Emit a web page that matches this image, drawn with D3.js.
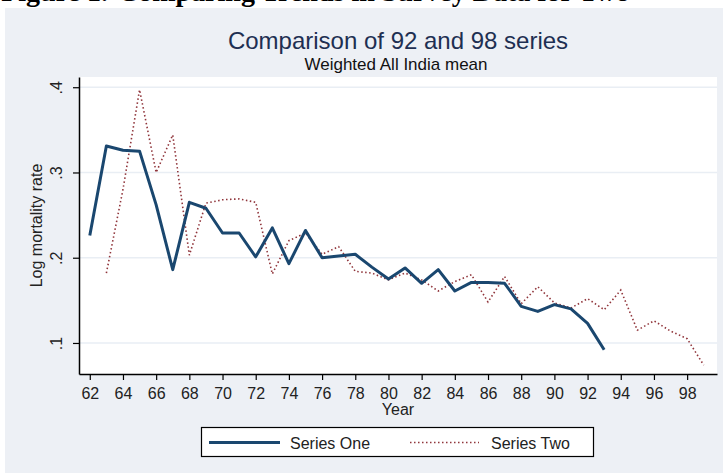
<!DOCTYPE html>
<html>
<head>
<meta charset="utf-8">
<script src="https://cdn.jsdelivr.net/npm/d3@7"></script>
<style>
  body { margin: 0; background: #ffffff; }
  svg text { font-family: "Liberation Sans", Arial, sans-serif; }
</style>
</head>
<body>
<div id="chart"></div>
<script>
// years and values
const yearsOne = [62, 63, 64, 65, 66, 67, 68, 69, 70, 71, 72, 73, 74, 75, 76, 77,
                  78, 79, 80, 81, 82, 83, 84, 85, 86, 87, 88, 89, 90, 91, 92, 93];
const seriesOne = [0.226, 0.331, 0.326, 0.325, 0.262, 0.186, 0.265, 0.258, 0.229, 0.229,
                   0.201, 0.235, 0.193, 0.232, 0.200, 0.202, 0.204, 0.189, 0.175, 0.188,
                   0.170, 0.186, 0.161, 0.171, 0.171, 0.170, 0.143, 0.137, 0.145, 0.140,
                   0.123, 0.092];

const yearsTwo = [63, 64, 65, 66, 67, 68, 69, 70, 71, 72, 73, 74, 75, 76, 77, 78, 79,
                  80, 81, 82, 83, 84, 85, 86, 87, 88, 89, 90, 91, 92, 93, 94, 95, 96,
                  97, 98, 99];
const seriesTwo = [0.182, 0.280, 0.397, 0.300, 0.344, 0.203, 0.264, 0.268, 0.269, 0.265,
                   0.181, 0.220, 0.229, 0.204, 0.213, 0.184, 0.182, 0.174, 0.182, 0.174,
                   0.161, 0.172, 0.180, 0.148, 0.178, 0.146, 0.166, 0.147, 0.141, 0.152,
                   0.139, 0.162, 0.115, 0.126, 0.114, 0.105, 0.074];

const xTicks = [62, 64, 66, 68, 70, 72, 74, 76, 78, 80, 82, 84, 86, 88, 90, 92, 94, 96, 98];
const yTicks = [0.1, 0.2, 0.3, 0.4];
const yTickLabels = [".1", ".2", ".3", ".4"];
const legendLabels = ["Series One", "Series Two"];

const W = 723, H = 473;
const plot = {left: 79, right: 717, top: 77, bottom: 374};

const svg = d3.select("#chart")
    .append("svg")
    .attr("width", W)
    .attr("height", H);

// clipped heading of the page above the figure
svg.append("text")
    .attr("x", 108)
    .attr("y", 1)
    .attr("text-anchor", "end")
    .style("font-family", "'Liberation Serif', 'Times New Roman', serif")
    .style("font-weight", "bold")
    .style("font-size", "28px")
    .attr("fill", "#000")
    .text("Figure 1.");
svg.append("text")
    .attr("x", 118)
    .attr("y", 1)
    .style("font-family", "'Liberation Serif', 'Times New Roman', serif")
    .style("font-weight", "bold")
    .style("font-size", "28px")
    .attr("fill", "#000")
    .text("Comparing Trends in Survey Data for Two");

// graph region
svg.append("rect")
    .attr("x", 5).attr("y", 8)
    .attr("width", W - 5).attr("height", H - 8)
    .attr("fill", "#edf0f5");

// plot region
svg.append("rect")
    .attr("x", plot.left).attr("y", plot.top)
    .attr("width", plot.right - plot.left).attr("height", plot.bottom - plot.top)
    .attr("fill", "#ffffff");

const x = d3.scaleLinear()
    .domain([61.35, 99.8])
    .range([plot.left, plot.right]);

const y = d3.scaleLinear()
    .domain([0.0636, 0.412])
    .range([plot.bottom, plot.top]);

// grid lines
svg.append("g")
    .selectAll("line")
    .data(yTicks)
    .join("line")
    .attr("x1", plot.left).attr("x2", plot.right)
    .attr("y1", d => y(d)).attr("y2", d => y(d))
    .attr("stroke", "#e9eef4")
    .attr("stroke-width", 1.5);

// X axis
const xAxis = svg.append("g")
    .attr("transform", `translate(0, ${plot.bottom})`)
    .call(d3.axisBottom(x).tickValues(xTicks).tickSize(6).tickPadding(4).tickSizeOuter(0));
xAxis.select(".domain").attr("stroke", "#000").attr("stroke-width", 1.5);
xAxis.selectAll(".tick line").attr("stroke", "#000").attr("stroke-width", 1.2);
xAxis.selectAll(".tick text")
    .attr("fill", "#222")
    .style("font-size", "16px")
    .attr("dy", "0.95em");

svg.append("text")
    .attr("text-anchor", "middle")
    .attr("x", (plot.left + plot.right) / 2)
    .attr("y", 415)
    .style("font-size", "16px")
    .attr("fill", "#222")
    .text("Year");

// Y axis
const yAxis = svg.append("g")
    .attr("transform", `translate(${plot.left}, 0)`)
    .call(d3.axisLeft(y).tickValues(yTicks).tickSize(6).tickSizeOuter(0)
        .tickFormat((d, i) => yTickLabels[i]));
yAxis.select(".domain").attr("stroke", "#000").attr("stroke-width", 1.5);
yAxis.selectAll(".tick line").attr("stroke", "#000").attr("stroke-width", 1.2);
yAxis.selectAll(".tick text")
    .attr("x", null).attr("dy", null)
    .attr("text-anchor", "middle")
    .attr("transform", "translate(-17, 0) rotate(-90)")
    .attr("fill", "#222")
    .style("font-size", "16px");

svg.append("text")
    .attr("text-anchor", "middle")
    .attr("transform", `translate(41.5, ${(plot.top + plot.bottom) / 2}) rotate(-90)`)
    .style("font-size", "16px")
    .attr("fill", "#222")
    .text("Log mortality rate");

// lines
const line = d3.line()
    .x(d => x(d[0]))
    .y(d => y(d[1]));

svg.append("path")
    .datum(d3.zip(yearsTwo, seriesTwo))
    .attr("fill", "none")
    .attr("stroke", "#90353b")
    .attr("stroke-width", 1.6)
    .attr("stroke-dasharray", "1.5,2.5")
    .attr("d", line);

svg.append("path")
    .datum(d3.zip(yearsOne, seriesOne))
    .attr("fill", "none")
    .attr("stroke", "#1a476f")
    .attr("stroke-width", 3)
    .attr("stroke-linejoin", "round")
    .attr("d", line);

// titles
svg.append("text")
    .attr("text-anchor", "middle")
    .attr("x", 398)
    .attr("y", 49)
    .style("font-size", "24px")
    .attr("fill", "#1e2f52")
    .text("Comparison of 92 and 98 series");

svg.append("text")
    .attr("text-anchor", "middle")
    .attr("x", 396)
    .attr("y", 70)
    .style("font-size", "17px")
    .attr("fill", "#111")
    .text("Weighted All India mean");

// legend
const legend = svg.append("g");
legend.append("rect")
    .attr("x", 201.5).attr("y", 427.5)
    .attr("width", 392).attr("height", 29)
    .attr("fill", "#fff")
    .attr("stroke", "#000")
    .attr("stroke-width", 1.2);

legend.append("line")
    .attr("x1", 209).attr("x2", 280)
    .attr("y1", 442.5).attr("y2", 442.5)
    .attr("stroke", "#1a476f")
    .attr("stroke-width", 3);
legend.append("text")
    .attr("x", 290).attr("y", 449)
    .style("font-size", "16px")
    .attr("fill", "#222")
    .text(legendLabels[0]);

legend.append("line")
    .attr("x1", 410).attr("x2", 479)
    .attr("y1", 442.5).attr("y2", 442.5)
    .attr("stroke", "#90353b")
    .attr("stroke-width", 1.6)
    .attr("stroke-dasharray", "1.5,2.5");
legend.append("text")
    .attr("x", 491).attr("y", 449)
    .style("font-size", "16px")
    .attr("fill", "#222")
    .text(legendLabels[1]);
</script>
</body>
</html>
